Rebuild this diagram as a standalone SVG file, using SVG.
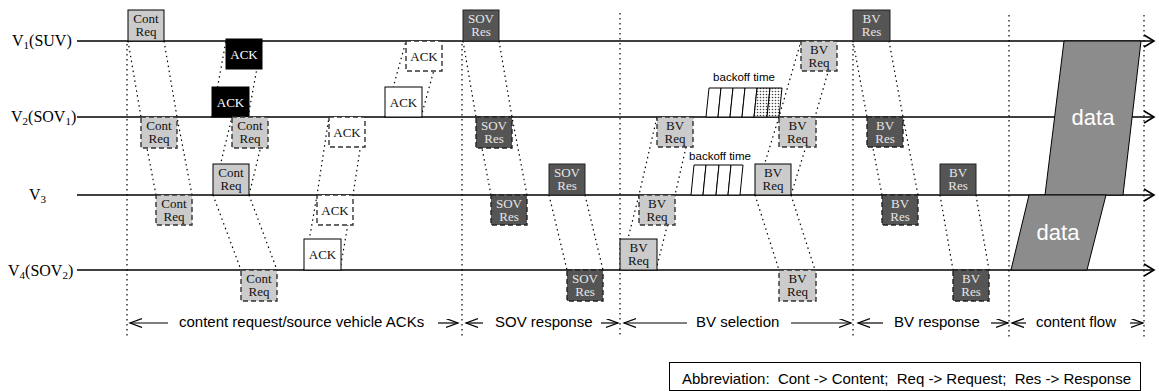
<svg xmlns="http://www.w3.org/2000/svg" width="1159" height="391" viewBox="0 0 1159 391">
<defs>
<style>
.tl{stroke:#000;stroke-width:1.3;fill:none}
.dot{stroke:#000;stroke-width:1.2;stroke-dasharray:1.5 3.5;fill:none}
.arr{stroke:#000;stroke-width:1.2;fill:none}
.lt{fill:#cbcbcb;stroke:#000;stroke-width:1}
.ltd{fill:#cbcbcb;stroke:#333;stroke-width:1.4;stroke-dasharray:5 3}
.dk{fill:#555;stroke:#222;stroke-width:1}
.dkd{fill:#555;stroke:#222;stroke-width:1.4;stroke-dasharray:5 3}
.bk{fill:#000;stroke:#000}
.wh{fill:#fff;stroke:#000;stroke-width:1}
.whd{fill:#fff;stroke:#333;stroke-width:1.4;stroke-dasharray:5 3}
.bt{font-family:"Liberation Serif",serif;font-size:13px;text-anchor:middle;fill:#111}
.btw{font-family:"Liberation Serif",serif;font-size:13px;text-anchor:middle;fill:#e6e6e6}
.lbl{font-family:"Liberation Serif",serif;font-size:16px;fill:#000}
.sans{font-family:"Liberation Sans",Arial,sans-serif;fill:#000}
.stripe{fill:#fff;stroke:#000;stroke-width:1}
.dstripe{fill:url(#dots);stroke:#000;stroke-width:1}
.data{fill:#8c8c8c;stroke:#000;stroke-width:1}
</style>
<pattern id="dots" width="3" height="3" patternUnits="userSpaceOnUse"><rect width="3" height="3" fill="#fff"/><circle cx="1.5" cy="1.5" r="0.8" fill="#444"/></pattern>
<marker id="chev" markerUnits="userSpaceOnUse" markerWidth="14" markerHeight="12" refX="12" refY="4.5" orient="auto"><path d="M0,0 L12,4.5 L0,9" fill="none" stroke="#000" stroke-width="1.2"/></marker>
</defs>

<g id="connectors">
<path class="dot" d="M127,44 V337 M462,44 V337 M620,13 V337 M853,44 V337 M1009,15 V337 M1144,15 V337"/>
<path class="dot" d="M128,41 L141,117 L156,195 M164,41 L177,117 L192,195"/>
<path class="dot" d="M212,117 L226,41 M248,117 L262,41"/>
<path class="dot" d="M213,195 L232,117 M249,195 L268,117 M213,195 L241,270 M249,195 L277,270"/>
<path class="dot" d="M304,270 L317,195 L329,117 M340,270 L353,195 L365,117"/>
<path class="dot" d="M385,117 L406,41 M421,117 L442,41"/>
<path class="dot" d="M463,41 L476,117 L491,195 M499,41 L512,117 L527,195"/>
<path class="dot" d="M549,195 L567,270 M585,195 L603,270"/>
<path class="dot" d="M620,270 L639,195 L657,117 M656,270 L675,195 L693,117"/>
<path class="dot" d="M755,195 L779,117 L801,41 M791,195 L815,117 L837,41 M755,195 L779,270 M791,195 L815,270"/>
<path class="dot" d="M853,41 L867,117 L882,195 M889,41 L903,117 L918,195"/>
<path class="dot" d="M940,195 L953,270 M976,195 L989,270"/>
<line class="arr" x1="168" y1="323" x2="130" y2="323" marker-end="url(#chev)"/>
<line class="arr" x1="438" y1="323" x2="458" y2="323" marker-end="url(#chev)"/>
<line class="arr" x1="483" y1="323" x2="466" y2="323" marker-end="url(#chev)"/>
<line class="arr" x1="601" y1="323" x2="618" y2="323" marker-end="url(#chev)"/>
<line class="arr" x1="687" y1="323" x2="624" y2="323" marker-end="url(#chev)"/>
<line class="arr" x1="791" y1="323" x2="851" y2="323" marker-end="url(#chev)"/>
<line class="arr" x1="883" y1="323" x2="858" y2="323" marker-end="url(#chev)"/>
<line class="arr" x1="991" y1="323" x2="1008" y2="323" marker-end="url(#chev)"/>
<line class="arr" x1="1026" y1="323" x2="1012" y2="323" marker-end="url(#chev)"/>
<line class="arr" x1="1130" y1="323" x2="1143" y2="323" marker-end="url(#chev)"/>
</g>

<g id="timelines">
<line class="tl" x1="77" y1="41" x2="1154" y2="41"/>
<line class="tl" x1="77" y1="117" x2="1154" y2="117"/>
<line class="tl" x1="77" y1="195" x2="1154" y2="195"/>
<line class="tl" x1="77" y1="270" x2="1154" y2="270"/>
<polyline fill="none" stroke="#000" stroke-width="1.6" points="1144,35 1154,41 1144,47"/>
<polyline fill="none" stroke="#000" stroke-width="1.6" points="1144,111 1154,117 1144,123"/>
<polyline fill="none" stroke="#000" stroke-width="1.6" points="1144,189 1154,195 1144,201"/>
<polyline fill="none" stroke="#000" stroke-width="1.6" points="1144,264 1154,270 1144,276"/>
<text class="lbl" x="12" y="46">V<tspan font-size="11" dy="3">1</tspan><tspan dy="-3">(SUV)</tspan></text>
<text class="lbl" x="11" y="122">V<tspan font-size="11" dy="3">2</tspan><tspan dy="-3">(SOV</tspan><tspan font-size="11" dy="3">1</tspan><tspan dy="-3">)</tspan></text>
<text class="lbl" x="29" y="200">V<tspan font-size="11" dy="3">3</tspan></text>
<text class="lbl" x="8" y="276">V<tspan font-size="11" dy="3">4</tspan><tspan dy="-3">(SOV</tspan><tspan font-size="11" dy="3">2</tspan><tspan dy="-3">)</tspan></text>
</g>

<g id="backoff-v2">
<polygon class="stripe" points="706,117 718,117 721,88 709,88"/>
<polygon class="stripe" points="718,117 730,117 733,88 721,88"/>
<polygon class="stripe" points="730,117 742,117 745,88 733,88"/>
<polygon class="stripe" points="742,117 754,117 757,88 745,88"/>
<polygon class="dstripe" points="754,117 767,117 770,88 757,88"/>
<polygon class="dstripe" points="767,117 779,117 782,88 770,88"/>
<text class="sans" x="744" y="81" font-size="11.5" text-anchor="middle">backoff time</text>
</g>
<g id="backoff-v3">
<polygon class="stripe" points="691,195 703,195 706,165 694,165"/>
<polygon class="stripe" points="703,195 716,195 719,165 706,165"/>
<polygon class="stripe" points="716,195 728,195 731,165 719,165"/>
<polygon class="stripe" points="728,195 740,195 743,165 731,165"/>
<text class="sans" x="720" y="160" font-size="11.5" text-anchor="middle">backoff time</text>
</g>

<g id="data-1">
<polygon class="data" points="1064,41 1141,41 1123,195 1045,195"/>
<text class="sans" x="1093" y="125" font-size="22" text-anchor="middle" style="fill:#fff">data</text>
</g>
<g id="data-2">
<polygon class="data" points="1029,195 1106,195 1087,270 1011,270"/>
<text class="sans" x="1058" y="240" font-size="22" text-anchor="middle" style="fill:#fff">data</text>
</g>

<g id="v1-cont-req"><rect class="lt" x="128" y="10" width="36" height="31"/><text class="bt"><tspan x="146" y="22.5">Cont</tspan><tspan x="146" y="36">Req</tspan></text></g>
<g id="v2-ack-black"><rect class="bk" x="212" y="87" width="37" height="30"/><text class="bt" x="230.5" y="106.5" style="fill:#fff">ACK</text></g>
<g id="v3-cont-req"><rect class="lt" x="213" y="164" width="36" height="31"/><text class="bt"><tspan x="231" y="176.5">Cont</tspan><tspan x="231" y="190">Req</tspan></text></g>
<g id="v4-ack"><rect class="wh" x="304" y="239" width="37" height="31"/><text class="bt" x="322.5" y="259">ACK</text></g>
<g id="v2-ack"><rect class="wh" x="385" y="87" width="37" height="30"/><text class="bt" x="403.5" y="106.5">ACK</text></g>
<g id="v1-sov-res"><rect class="dk" x="463" y="10" width="36" height="31"/><text class="btw"><tspan x="481" y="22.5">SOV</tspan><tspan x="481" y="36">Res</tspan></text></g>
<g id="v3-sov-res"><rect class="dk" x="549" y="164" width="36" height="31"/><text class="btw"><tspan x="567" y="176.5">SOV</tspan><tspan x="567" y="190">Res</tspan></text></g>
<g id="v4-bv-req"><rect class="lt" x="620" y="239" width="37" height="31"/><text class="bt"><tspan x="638.5" y="251.5">BV</tspan><tspan x="638.5" y="265">Req</tspan></text></g>
<g id="v3-bv-req"><rect class="lt" x="755" y="164" width="36" height="31"/><text class="bt"><tspan x="773" y="176.5">BV</tspan><tspan x="773" y="190">Req</tspan></text></g>
<g id="v1-bv-res"><rect class="dk" x="853" y="10" width="37" height="31"/><text class="btw"><tspan x="871.5" y="22.5">BV</tspan><tspan x="871.5" y="36">Res</tspan></text></g>
<g id="v3-bv-res"><rect class="dk" x="940" y="164" width="36" height="31"/><text class="btw"><tspan x="958" y="176.5">BV</tspan><tspan x="958" y="190">Res</tspan></text></g>

<g id="v2-cont-req-a"><rect class="ltd" x="141" y="117" width="36" height="31"/><text class="bt"><tspan x="159" y="129.5">Cont</tspan><tspan x="159" y="143">Req</tspan></text></g>
<g id="v3-cont-req-rx"><rect class="ltd" x="156" y="195" width="36" height="30"/><text class="bt"><tspan x="174" y="207.5">Cont</tspan><tspan x="174" y="221">Req</tspan></text></g>
<g id="v1-ack-black"><rect class="bk" x="226" y="39" width="36" height="30"/><text class="bt" x="244" y="58.5" style="fill:#fff">ACK</text></g>
<g id="v2-cont-req-b"><rect class="ltd" x="232" y="117" width="36" height="31"/><text class="bt"><tspan x="250" y="129.5">Cont</tspan><tspan x="250" y="143">Req</tspan></text></g>
<g id="v4-cont-req"><rect class="ltd" x="241" y="270" width="36" height="31"/><text class="bt"><tspan x="259" y="282.5">Cont</tspan><tspan x="259" y="296">Req</tspan></text></g>
<g id="v3-ack-rx"><rect class="whd" x="317" y="195" width="36" height="30"/><text class="bt" x="335" y="214.5">ACK</text></g>
<g id="v2-ack-rx"><rect class="whd" x="329" y="117" width="36" height="30"/><text class="bt" x="347" y="136.5">ACK</text></g>
<g id="v1-ack-rx"><rect class="whd" x="406" y="41" width="36" height="30"/><text class="bt" x="424" y="60.5">ACK</text></g>
<g id="v2-sov-res"><rect class="dkd" x="476" y="117" width="36" height="31"/><text class="btw"><tspan x="494" y="129.5">SOV</tspan><tspan x="494" y="143">Res</tspan></text></g>
<g id="v3-sov-res-rx"><rect class="dkd" x="491" y="195" width="36" height="30"/><text class="btw"><tspan x="509" y="207.5">SOV</tspan><tspan x="509" y="221">Res</tspan></text></g>
<g id="v4-sov-res"><rect class="dkd" x="567" y="270" width="36" height="31"/><text class="btw"><tspan x="585" y="282.5">SOV</tspan><tspan x="585" y="296">Res</tspan></text></g>
<g id="v3-bv-req-rx"><rect class="ltd" x="639" y="195" width="36" height="30"/><text class="bt"><tspan x="657" y="207.5">BV</tspan><tspan x="657" y="221">Req</tspan></text></g>
<g id="v2-bv-req-a"><rect class="ltd" x="657" y="117" width="36" height="30"/><text class="bt"><tspan x="675" y="129.5">BV</tspan><tspan x="675" y="143">Req</tspan></text></g>
<g id="v2-bv-req-b"><rect class="ltd" x="779" y="117" width="37" height="30"/><text class="bt"><tspan x="797.5" y="129.5">BV</tspan><tspan x="797.5" y="143">Req</tspan></text></g>
<g id="v1-bv-req"><rect class="ltd" x="801" y="41" width="36" height="30"/><text class="bt"><tspan x="819" y="53.5">BV</tspan><tspan x="819" y="67">Req</tspan></text></g>
<g id="v4-bv-req-rx"><rect class="ltd" x="779" y="270" width="37" height="31"/><text class="bt"><tspan x="797.5" y="282.5">BV</tspan><tspan x="797.5" y="296">Req</tspan></text></g>
<g id="v2-bv-res"><rect class="dkd" x="867" y="117" width="36" height="30"/><text class="btw"><tspan x="885" y="129.5">BV</tspan><tspan x="885" y="143">Res</tspan></text></g>
<g id="v3-bv-res-rx"><rect class="dkd" x="882" y="195" width="36" height="30"/><text class="btw"><tspan x="900" y="207.5">BV</tspan><tspan x="900" y="221">Res</tspan></text></g>
<g id="v4-bv-res"><rect class="dkd" x="953" y="270" width="36" height="31"/><text class="btw"><tspan x="971" y="282.5">BV</tspan><tspan x="971" y="296">Res</tspan></text></g>

<g id="phase-labels">
<text class="sans" x="179" y="327" font-size="15">content request/source vehicle ACKs</text>
<text class="sans" x="495" y="327" font-size="15">SOV response</text>
<text class="sans" x="696" y="327" font-size="15">BV selection</text>
<text class="sans" x="894" y="327" font-size="15">BV response</text>
<text class="sans" x="1036" y="327" font-size="15">content flow</text>
</g>

<g id="abbreviation">
<rect x="669.5" y="362.5" width="471" height="28" fill="#fff" stroke="#000" stroke-width="1"/>
<text class="sans" x="682" y="384" font-size="15" style="white-space:pre">Abbreviation:  Cont -&gt; Content;  Req -&gt; Request;  Res -&gt; Response</text>
</g>
</svg>
